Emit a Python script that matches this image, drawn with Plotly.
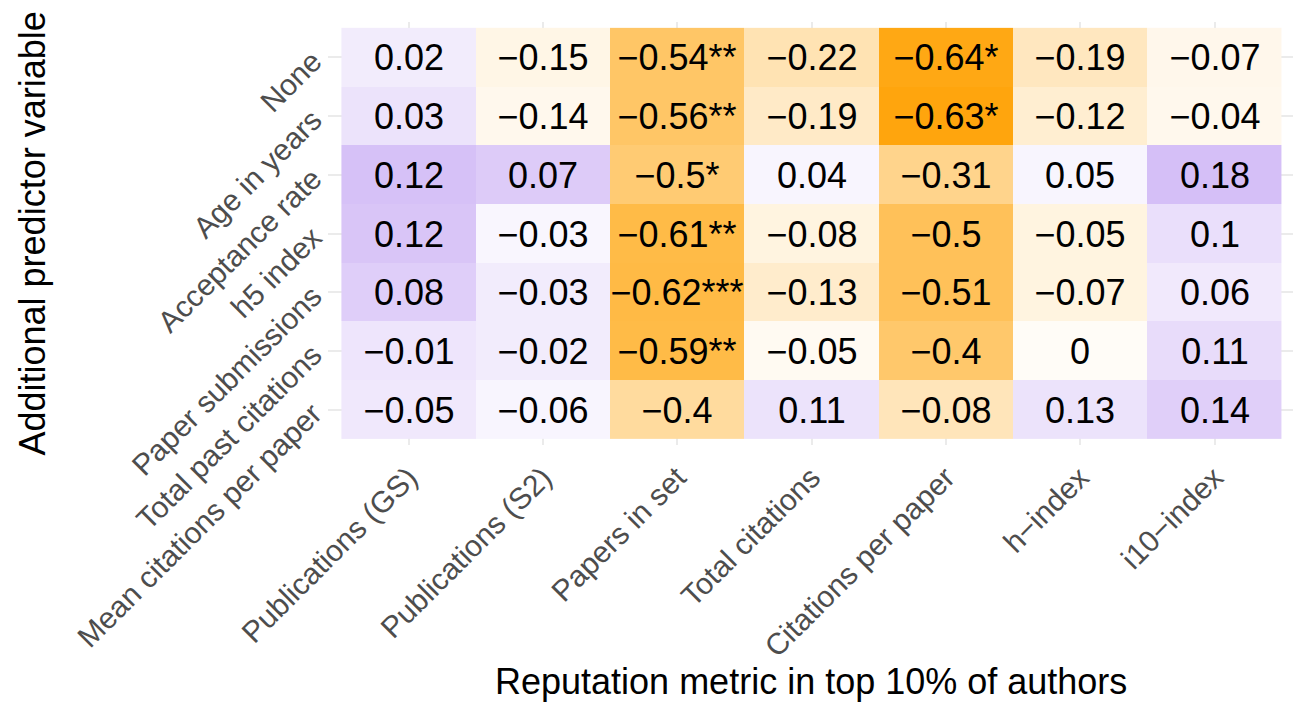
import plotly.graph_objects as go

metrics = ["Publications (GS)", "Publications (S2)", "Papers in set", "Total citations",
           "Citations per paper", "h\u2212index", "i10\u2212index"]
predictors = ["None", "Age in years", "Acceptance rate", "h5 index", "Paper submissions",
              "Total past citations", "Mean citations per paper"]

estimates = [
    [0.02, -0.15, -0.54, -0.22, -0.64, -0.19, -0.07],
    [0.03, -0.14, -0.56, -0.19, -0.63, -0.12, -0.04],
    [0.12, 0.07, -0.50, 0.04, -0.31, 0.05, 0.18],
    [0.12, -0.03, -0.61, -0.08, -0.50, -0.05, 0.10],
    [0.08, -0.03, -0.62, -0.13, -0.51, -0.07, 0.06],
    [-0.01, -0.02, -0.59, -0.05, -0.40, 0.00, 0.11],
    [-0.05, -0.06, -0.40, 0.11, -0.08, 0.13, 0.14],
]
stars = [
    ["", "", "**", "", "*", "", ""],
    ["", "", "**", "", "*", "", ""],
    ["", "", "*", "", "", "", ""],
    ["", "", "**", "", "", "", ""],
    ["", "", "***", "", "", "", ""],
    ["", "", "**", "", "", "", ""],
    ["", "", "", "", "", "", ""],
]
fill = [
    [0.15, -0.10, -0.60, -0.30, -0.92, -0.25, -0.08],
    [0.22, -0.07, -0.60, -0.22, -0.95, -0.18, -0.07],
    [0.48, 0.40, -0.55, 0.08, -0.45, 0.08, 0.50],
    [0.45, 0.07, -0.72, -0.12, -0.65, -0.12, 0.25],
    [0.38, 0.15, -0.73, -0.20, -0.65, -0.12, 0.17],
    [0.20, 0.15, -0.72, -0.05, -0.58, -0.03, 0.27],
    [0.18, 0.08, -0.38, 0.22, -0.27, 0.22, 0.37],
]


def fmt(v, s):
    t = f"{round(v, 2):g}"
    if t == "-0":
        t = "0"
    return t.replace("-", "\u2212") + s


labels = [[fmt(v, s) for v, s in zip(rv, rs)] for rv, rs in zip(estimates, stars)]

FONT = "Liberation Sans, Arial, sans-serif"

fig = go.Figure(go.Heatmap(
    z=fill,
    x=list(range(len(metrics))),
    y=list(range(len(predictors))),
    text=labels,
    texttemplate="%{text}",
    textfont=dict(family=FONT, size=36, color="black"),
    colorscale=[[0.0, "#FFA000"], [0.5, "#FFFFFF"], [1.0, "#AA7EEE"]],
    zmin=-1, zmax=1,
    showscale=False,
    hoverinfo="skip",
))

fig.update_layout(
    width=1293, height=704,
    margin=dict(l=328, r=0, t=22, b=259),
    paper_bgcolor="white",
    plot_bgcolor="white",
    font=dict(family=FONT),
    xaxis=dict(
        range=[-0.6, 6.584],
        tickmode="array",
        tickvals=list(range(len(metrics))),
        ticktext=metrics,
        tickangle=-45,
        tickfont=dict(family=FONT, size=30, color="#4D4D4D"),
        showgrid=True, gridcolor="#EBEBEB", gridwidth=2,
        zeroline=False, showline=False,
        ticks="", ticklabelstandoff=8,
    ),
    yaxis=dict(
        range=[6.6, -0.6],
        tickmode="array",
        tickvals=list(range(len(predictors))),
        ticktext=predictors,
        tickangle=-45,
        tickfont=dict(family=FONT, size=30, color="#4D4D4D"),
        showgrid=True, gridcolor="#EBEBEB", gridwidth=2,
        zeroline=False, showline=False,
        ticks="", ticklabelstandoff=14,
    ),
    annotations=[
        dict(text="Reputation metric in top 10% of authors", xref="paper", yref="paper",
             x=0.5, y=-0.56, xanchor="center", yanchor="middle", showarrow=False,
             font=dict(family=FONT, size=36, color="black")),
        dict(text="Additional predictor variable", xref="paper", yref="paper",
             x=-0.3067, y=0.5, xanchor="center", yanchor="middle", showarrow=False,
             textangle=-90, font=dict(family=FONT, size=36, color="black")),
    ],
)

fig.write_html("out.html")
